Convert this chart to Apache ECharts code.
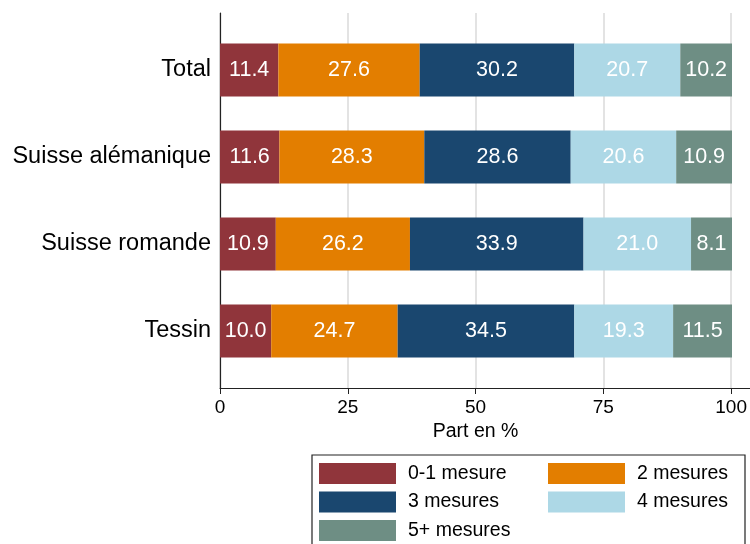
<!DOCTYPE html>
<html>
<head>
<meta charset="utf-8">
<script src="https://cdn.jsdelivr.net/npm/echarts@6/dist/echarts.min.js"></script>
<style>
  html, body { margin: 0; padding: 0; background: #fff; }
  #chart { width: 750px; height: 544px; }
</style>
</head>
<body>
<div id="chart"></div>
<script>
const categories = ['Total', 'Suisse alémanique', 'Suisse romande', 'Tessin']
const seriesNames = ['0-1 mesure', '2 mesures', '3 mesures', '4 mesures', '5+ mesures']
const mesure01 = [11.4, 11.6, 10.9, 10.0]
const mesure2 = [27.6, 28.3, 26.2, 24.7]
const mesure3 = [30.2, 28.6, 33.9, 34.5]
const mesure4 = [20.7, 20.6, 21.0, 19.3]
const mesure5 = [10.2, 10.9, 8.1, 11.5]
const xTicks = [0, 25, 50, 75, 100]

const colors = ['#90353B', '#E37E00', '#1A476F', '#ADD8E6', '#6E8E84']
const font = 'Liberation Sans, Arial, sans-serif'

const chart = echarts.init(document.getElementById('chart'))

function makeBar(name, data, i) {
  return {
    name: name,
    type: 'bar',
    stack: 'total',
    xAxisIndex: 1,
    yAxisIndex: 1,
    barWidth: 53,
    data: data,
    itemStyle: { color: colors[i] },
    label: {
      show: true,
      position: 'inside',
      color: '#fff',
      fontSize: 21.5,
      fontFamily: font,
      formatter: p => p.value.toFixed(1)
    },
    animation: false
  }
}

const legendBase = {
  orient: 'vertical',
  top: 463,
  padding: 0,
  itemWidth: 77,
  itemHeight: 21,
  itemGap: 7.5,
  icon: 'rect',
  selectedMode: false,
  textStyle: { color: '#000', fontSize: 19.5, fontFamily: font, padding: [0, 0, 0, 7] }
}

chart.setOption({
  textStyle: { fontFamily: font },
  // grid 0: axes + gridlines, grid 1: bars (inset so the bands sit like the original)
  // grid 2: only the bottom axis line, which runs on to the right edge
  grid: [
    { left: 220, right: 18, top: 13, bottom: 156 },
    { left: 220, right: 18, top: 26.5, bottom: 169.5 },
    { left: 220, right: 0, top: 13, bottom: 156 }
  ],
  xAxis: [{
    gridIndex: 0,
    type: 'value',
    min: xTicks[0],
    max: xTicks[xTicks.length - 1],
    interval: 25,
    name: 'Part en %',
    nameLocation: 'middle',
    nameGap: 31,
    nameTextStyle: { color: '#000', fontSize: 19.5, fontFamily: font },
    axisLine: { show: false },
    axisTick: { show: true, length: 6, lineStyle: { color: '#222' } },
    axisLabel: { color: '#000', fontSize: 19, margin: 10, fontFamily: font },
    splitLine: { show: true, lineStyle: { color: '#dcdcdc', width: 1.6 } }
  }, {
    gridIndex: 1,
    type: 'value',
    min: 0,
    max: 100,
    show: false
  }, {
    gridIndex: 2,
    type: 'value',
    min: 0,
    max: 1,
    axisLine: { show: true, lineStyle: { color: '#222', width: 1.2 } },
    axisTick: { show: false },
    axisLabel: { show: false },
    splitLine: { show: false }
  }],
  yAxis: [{
    gridIndex: 0,
    type: 'value',
    min: 0,
    max: 1,
    axisLine: { show: true, lineStyle: { color: '#222', width: 1.2 } },
    axisTick: { show: false },
    axisLabel: { show: false },
    splitLine: { show: false }
  }, {
    gridIndex: 1,
    type: 'category',
    inverse: true,
    data: categories,
    axisLine: { show: false },
    axisTick: { show: false },
    axisLabel: { color: '#000', fontSize: 23.5, margin: 9, fontFamily: font, padding: [3, 0, 0, 0] },
    splitLine: { show: false }
  }, {
    gridIndex: 2,
    type: 'value',
    show: false
  }],
  legend: [
    Object.assign({}, legendBase, { left: 319, data: [seriesNames[0], seriesNames[2], seriesNames[4]] }),
    Object.assign({}, legendBase, { left: 548, data: [seriesNames[1], seriesNames[3]] })
  ],
  // legend frame
  graphic: [{
    type: 'rect',
    shape: { x: 312, y: 455, width: 433, height: 100 },
    style: { fill: 'none', stroke: '#222', lineWidth: 1.2 },
    silent: true
  }],
  series: [
    makeBar(seriesNames[0], mesure01, 0),
    makeBar(seriesNames[1], mesure2, 1),
    makeBar(seriesNames[2], mesure3, 2),
    makeBar(seriesNames[3], mesure4, 3),
    makeBar(seriesNames[4], mesure5, 4)
  ]
})
</script>
</body>
</html>
